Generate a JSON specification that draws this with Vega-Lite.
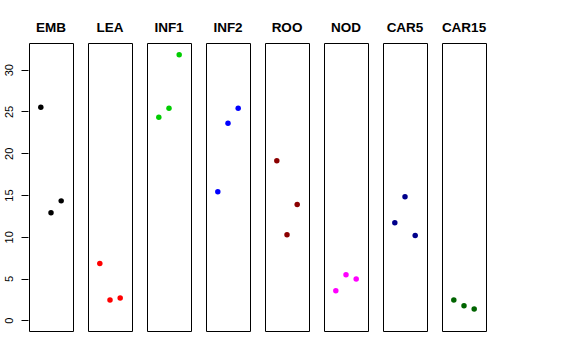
{
  "$schema": "https://vega.github.io/schema/vega-lite/v6.json",
  "padding": {"left": 3, "top": 20, "right": 5, "bottom": 5},
  "background": "white",
  "data": {"values": [
    {"tissue": "EMB", "rep": 1, "value": 25.5},
    {"tissue": "EMB", "rep": 2, "value": 12.87},
    {"tissue": "EMB", "rep": 3, "value": 14.3},
    {"tissue": "LEA", "rep": 1, "value": 6.81},
    {"tissue": "LEA", "rep": 2, "value": 2.43},
    {"tissue": "LEA", "rep": 3, "value": 2.67},
    {"tissue": "INF1", "rep": 1, "value": 24.3},
    {"tissue": "INF1", "rep": 2, "value": 25.4},
    {"tissue": "INF1", "rep": 3, "value": 31.8},
    {"tissue": "INF2", "rep": 1, "value": 15.4},
    {"tissue": "INF2", "rep": 2, "value": 23.6},
    {"tissue": "INF2", "rep": 3, "value": 25.4},
    {"tissue": "ROO", "rep": 1, "value": 19.1},
    {"tissue": "ROO", "rep": 2, "value": 10.24},
    {"tissue": "ROO", "rep": 3, "value": 13.86},
    {"tissue": "NOD", "rep": 1, "value": 3.55},
    {"tissue": "NOD", "rep": 2, "value": 5.46},
    {"tissue": "NOD", "rep": 3, "value": 4.94},
    {"tissue": "CAR5", "rep": 1, "value": 11.67},
    {"tissue": "CAR5", "rep": 2, "value": 14.78},
    {"tissue": "CAR5", "rep": 3, "value": 10.16},
    {"tissue": "CAR15", "rep": 1, "value": 2.43},
    {"tissue": "CAR15", "rep": 2, "value": 1.75},
    {"tissue": "CAR15", "rep": 3, "value": 1.35}
  ]},
  "facet": {
    "column": {
      "field": "tissue",
      "type": "nominal",
      "sort": ["EMB", "LEA", "INF1", "INF2", "ROO", "NOD", "CAR5", "CAR15"],
      "title": null,
      "header": {
        "labelOrient": "top",
        "labelFont": "Liberation Sans",
        "labelFontWeight": "bold",
        "labelFontSize": 13.5,
        "labelColor": "black",
        "labelPadding": 8
      }
    }
  },
  "spacing": 13,
  "spec": {
    "width": 44,
    "height": 288,
    "mark": {"type": "point", "filled": true, "opacity": 1, "size": 30},
    "encoding": {
      "x": {
        "field": "rep", "type": "quantitative",
        "scale": {"domain": [-0.16, 4.16], "nice": false, "zero": false},
        "axis": null
      },
      "y": {
        "field": "value", "type": "quantitative",
        "scale": {"domain": [-1.28, 33.2], "nice": false, "zero": false},
        "axis": {
          "title": null,
          "values": [0, 5, 10, 15, 20, 25, 30],
          "grid": false,
          "domain": false,
          "tickSize": 7,
          "tickColor": "black",
          "labelAngle": 270,
          "labelAlign": "center",
          "labelBaseline": "bottom",
          "labelPadding": 7,
          "labelFont": "Liberation Sans",
          "labelFontSize": 11,
          "labelColor": "black"
        }
      },
      "color": {
        "field": "tissue", "type": "nominal", "legend": null,
        "scale": {
          "domain": ["EMB", "LEA", "INF1", "INF2", "ROO", "NOD", "CAR5", "CAR15"],
          "range": ["#000000", "#FF0000", "#00CD00", "#0000FF", "#8B0000", "#FF00FF", "#00008B", "#006400"]
        }
      }
    }
  },
  "config": {
    "view": {"stroke": "black", "strokeWidth": 1}
  }
}
